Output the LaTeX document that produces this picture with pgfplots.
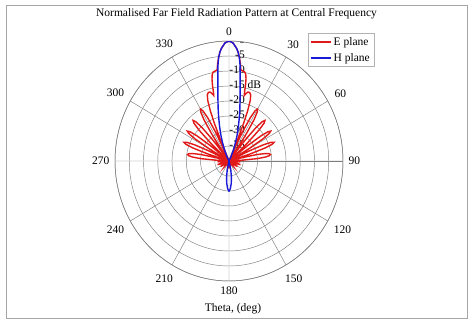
\documentclass[border=0pt]{standalone}
\usepackage{fontspec}
\setmainfont{Liberation Serif}
\usepackage{pgfplots}
\pgfplotsset{compat=1.18}
\usepackage{pgfplotstable}
\usepgfplotslibrary{polar}
\definecolor{eplane}{RGB}{225,25,25}
\definecolor{hplane}{RGB}{25,25,215}
\definecolor{gridc}{RGB}{125,125,125}

% theta measured from the top, clockwise; level in dB (floor -40 dB)
\pgfplotstableread{
theta db
-180 -37.5
-175 -38.5
-170 -39
-165 -38.5
-160 -39
-150 -40
-144 -38.5
-140 -37.5
-136 -38.5
-130 -40
-125 -38
-122 -36.5
-119 -38
-115 -40
-110 -37.5
-107 -35.8
-104 -37.5
-100 -40
-97 -38.5
-94 -36
-91 -38.5
-88 -40
-86.7 -35.5
-85.4 -29.9
-84.1 -27.1
-82.8 -25.7
-81.5 -25.3
-80.2 -25.7
-78.9 -27.1
-77.6 -29.9
-76.3 -35.5
-75 -40
-73.05 -36.7
-72.4 -32.2
-71.1 -26.7
-69.8 -23.9
-68.5 -23
-67.2 -23.9
-65.9 -26.7
-64.6 -32.2
-63.95 -36.7
-62 -40
-60.1 -36
-59.5 -31.5
-58.25 -26
-57 -23.2
-55.75 -22.3
-54.5 -23.2
-53.25 -26
-52 -31.5
-51.4 -36
-49.5 -40
-47.55 -35.2
-46.9 -30.7
-45.6 -25.2
-44.3 -22.4
-43 -21.5
-41.7 -22.4
-40.4 -25.2
-39.1 -30.7
-38.45 -35.2
-36.5 -40
-34.55 -33.7
-33.9 -29.2
-32.6 -23.7
-31.3 -20.9
-30 -20
-28.7 -20.9
-27.4 -23.7
-26.1 -29.2
-25.45 -33.7
-23.5 -40
-22.9 -33
-22.3 -27
-21.4 -22
-20.3 -18.5
-19 -16.6
-17.5 -16
-16 -16.1
-14.8 -16.8
-13.8 -17.5
-13.4 -16.5
-12.9 -14
-12.3 -12
-11.5 -10.5
-10.5 -9.8
-9 -9.6
-7.8 -9.3
-7 -7.3
-6 -5.2
-5 -3.5
-4 -2.3
-2 -0.6
0 0
2 -0.6
4 -2.3
5 -3.5
6 -5.2
7 -7.3
7.8 -9.3
9 -9.6
10.5 -9.8
11.5 -10.5
12.3 -12
12.9 -14
13.4 -16.5
13.8 -17.5
14.8 -16.8
16 -16.1
17.5 -16
19 -16.6
20.3 -18.5
21.4 -22
22.3 -27
22.9 -33
23.5 -40
25.45 -33.7
26.1 -29.2
27.4 -23.7
28.7 -20.9
30 -20
31.3 -20.9
32.6 -23.7
33.9 -29.2
34.55 -33.7
36.5 -40
38.45 -35.2
39.1 -30.7
40.4 -25.2
41.7 -22.4
43 -21.5
44.3 -22.4
45.6 -25.2
46.9 -30.7
47.55 -35.2
49.5 -40
51.4 -36
52 -31.5
53.25 -26
54.5 -23.2
55.75 -22.3
57 -23.2
58.25 -26
59.5 -31.5
60.1 -36
62 -40
63.95 -36.7
64.6 -32.2
65.9 -26.7
67.2 -23.9
68.5 -23
69.8 -23.9
71.1 -26.7
72.4 -32.2
73.05 -36.7
75 -40
76.3 -35.5
77.6 -29.9
78.9 -27.1
80.2 -25.7
81.5 -25.3
82.8 -25.7
84.1 -27.1
85.4 -29.9
86.7 -35.5
88 -40
91 -38.5
94 -36
97 -38.5
100 -40
104 -37.5
107 -35.8
110 -37.5
115 -40
119 -38
122 -36.5
125 -38
130 -40
136 -38.5
140 -37.5
144 -38.5
150 -40
160 -39
165 -38.5
170 -39
175 -38.5
180 -37.5
}\Edata

\pgfplotstableread{
theta db
-180 -29.8
-177 -30.8
-174 -32.5
-171 -34.5
-168 -37
-165 -40
-30 -40
-26 -38.5
-23 -36
-20 -33
-18 -30.5
-16 -28
-14 -25
-12.5 -22.5
-11 -19.7
-10 -17.5
-9 -15
-8 -12
-7 -8
-6 -5.3
-5 -3.5
-4 -2.3
-2 -0.6
0 0
2 -0.6
4 -2.3
5 -3.5
6 -5.3
7 -8
8 -12
9 -15
10 -17.5
11 -19.7
12.5 -22.5
14 -25
16 -28
18 -30.5
20 -33
23 -36
26 -38.5
30 -40
165 -40
168 -37
171 -34.5
174 -32.5
177 -30.8
180 -29.8
}\Hdata

\begin{document}
\begin{tikzpicture}[font=\fontsize{11.5bp}{13bp}\selectfont]
\draw[gray!70, line width=0.8bp] (6bp,5bp) rectangle (467bp,318bp);
\node at (236.5bp,309bp) {Normalised Far Field Radiation Pattern at Central Frequency};
\node at (233bp,14bp) {Theta, (deg)};
\begin{polaraxis}[
  at={(229bp,162bp)}, anchor=center,
  width=228bp, height=240bp, scale only axis,
  xmin=0, xmax=360, ymin=0, ymax=40,
  xtick={0,30,...,330},
  xticklabels={90,60,30,0,330,300,270,240,210,180,150,120},
  ytick={5,10,...,40}, yticklabels={},
  grid=major,
  major grid style={gridc, line width=0.45bp},
  axis line style={gridc, line width=0.5bp},
  major tick length=0pt,
  /pgf/number format/assume math mode=true,
  xticklabel style={font=\fontsize{11.5bp}{13bp}\selectfont, inner sep=5.5bp},
  legend style={at={(axis description cs:0.846,1.033)}, anchor=north west,
    draw=gray!60, font=\fontsize{11.5bp}{13bp}\selectfont,
    inner sep=2bp, row sep=2.5bp, fill=white},
  legend cell align=left,
  legend image code/.code={\draw[mark repeat=2,mark phase=2,#1] plot coordinates {(0bp,0bp) (10bp,0bp) (20bp,0bp)};},
]
\addlegendimage{color=eplane, line width=1.6bp}
\addlegendentry{E plane}
\addlegendimage{color=hplane, line width=1.6bp}
\addlegendentry{H plane}
\node[anchor=east, inner sep=0pt, xshift=16bp, yshift=1.5bp] at (axis cs:90,40) {0};
\node[anchor=east, inner sep=0pt, xshift=16bp, yshift=1.5bp] at (axis cs:90,35) {-5};
\node[anchor=east, inner sep=0pt, xshift=16bp, yshift=1.5bp] at (axis cs:90,30) {-10};
\node[anchor=east, inner sep=0pt, xshift=16bp, yshift=1.5bp] at (axis cs:90,25) {-15};
\node[anchor=west, inner sep=0pt, xshift=18.5bp, yshift=1.5bp] at (axis cs:90,25) {dB};
\node[anchor=east, inner sep=0pt, xshift=16bp, yshift=1.5bp] at (axis cs:90,20) {-20};
\node[anchor=east, inner sep=0pt, xshift=16bp, yshift=1.5bp] at (axis cs:90,15) {-25};
\node[anchor=east, inner sep=0pt, xshift=16bp, yshift=1.5bp] at (axis cs:90,10) {-30};
\node[anchor=east, inner sep=0pt, xshift=16bp, yshift=1.5bp] at (axis cs:90,5) {-35};
\addplot[forget plot, color=eplane, line width=1.4bp, mark=none]
  table[x expr=90-\thisrow{theta}, y expr=\thisrow{db}+40] {\Edata};
\addplot[forget plot, color=hplane, line width=1.4bp, mark=none]
  table[x expr=90-\thisrow{theta}, y expr=\thisrow{db}+40] {\Hdata};
\end{polaraxis}
\pgfresetboundingbox
\useasboundingbox (0,0) rectangle (473bp,323bp);
\end{tikzpicture}
\end{document}
